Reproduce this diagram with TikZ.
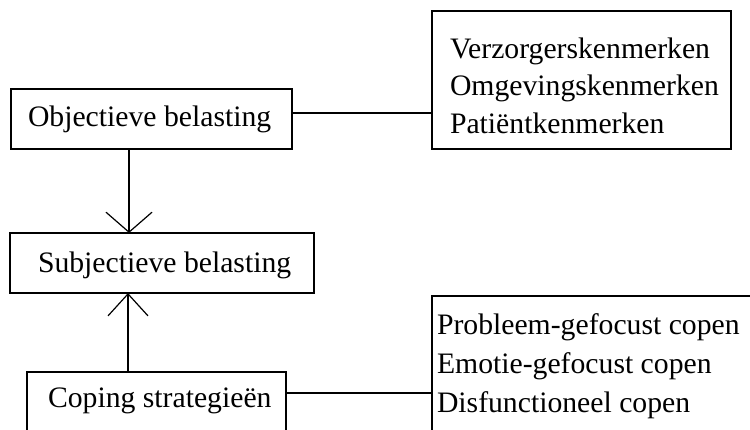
\documentclass[tikz,border=0pt]{standalone}
\usepackage{fontspec}
\setmainfont{Liberation Serif}
\usetikzlibrary{arrows.meta}
\begin{document}
\begin{tikzpicture}[x=1pt,y=-1pt,
  box/.style={draw=black,line width=1.3pt,rectangle,inner sep=0pt,outer sep=0pt},
  txt/.style={anchor=base west,inner sep=0pt,outer sep=0pt,font=\fontsize{29.7}{36}\selectfont},
  conn/.style={draw=black,line width=1.3pt},
  arrA/.style={conn,-{Straight Barb[length=20pt,width=46pt,line width=1.2pt]}},
  arrB/.style={conn,-{Straight Barb[length=22pt,width=40pt,line width=1.2pt]}}]
\useasboundingbox (0,0) rectangle (750,430);
\clip (0,0) rectangle (750,430);
% boxes
\node[box,minimum width=281pt,minimum height=60pt] (obj) at (151.5,119) {};
\node[box,minimum width=299pt,minimum height=138pt] (kenm) at (581.5,80) {};
\node[box,minimum width=304pt,minimum height=60pt] (subj) at (162,263) {};
\node[box,minimum width=259pt,minimum height=88pt] (cop) at (156.5,416) {};
\node[box,minimum width=328pt,minimum height=164pt] (copl) at (596,378) {};
% texts
\node[txt] (tobj) at (28,127) {Objectieve belasting};
\node[txt] (tsubj) at (38,272.5) {Subjectieve belasting};
\node[txt] (tcop) at (48,407) {Coping strategieën};
\node[txt] (k1) at (450,58.5) {Verzorgerskenmerken};
\node[txt] (k2) at (450,96) {Omgevingskenmerken};
\node[txt] (k3) at (450,133.5) {Patiëntkenmerken};
\node[txt] (c1) at (437,335) {Probleem-gefocust copen};
\node[txt] (c2) at (437,373.5) {Emotie-gefocust copen};
\node[txt] (c3) at (437,412) {Disfunctioneel copen};
% connectors
\draw[conn] ([yshift=6pt]obj.east) -- ([yshift=6pt]obj.east -| kenm.west);
\draw[conn] ([yshift=23pt]cop.east) -- ([yshift=23pt]cop.east -| copl.west);
\draw[arrA] ([xshift=-22.5pt]obj.south) -- ([xshift=-22.5pt]obj.south |- subj.north);
\draw[arrB] ([xshift=-28.5pt]cop.north) -- ([xshift=-28.5pt]cop.north |- subj.south);
\end{tikzpicture}
\end{document}
